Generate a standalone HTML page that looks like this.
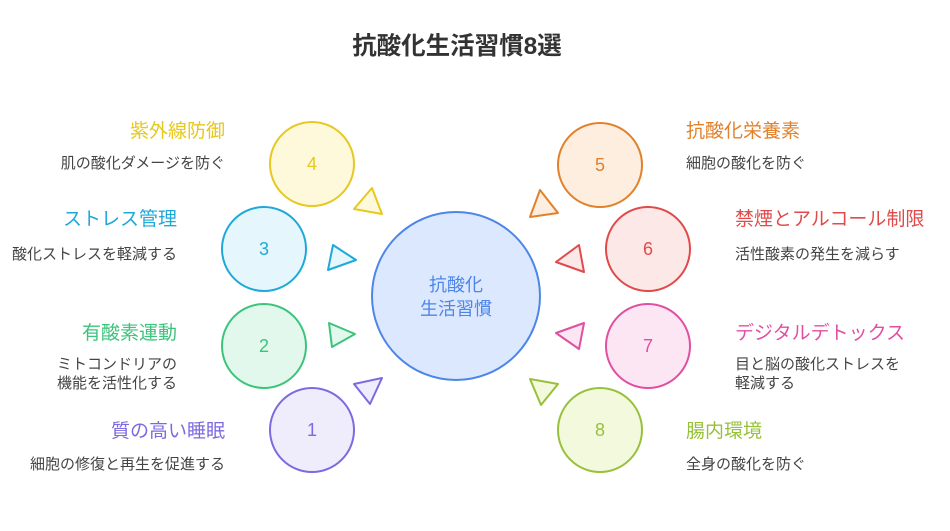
<!DOCTYPE html>
<html><head><meta charset="utf-8"><style>
body{margin:0;background:#fff;}
svg text{font-family:"Liberation Sans","Noto Sans CJK JP",sans-serif;}
</style></head><body>
<svg width="950" height="526" xmlns="http://www.w3.org/2000/svg">
<text x="457" y="54" font-size="24.5" font-weight="bold" fill="#333" text-anchor="middle">抗酸化生活習慣8選</text>
<g stroke-width="2" stroke-linejoin="round">
<circle cx="456" cy="296" r="84" fill="#dce8fd" stroke="#4d86e8"/>
<circle cx="312" cy="164" r="42" fill="#fef9db" stroke="#e6c81f"/>
<circle cx="264" cy="249" r="42" fill="#e6f6fd" stroke="#1ea9d8"/>
<circle cx="264" cy="346" r="42" fill="#e2f8ec" stroke="#3cc47c"/>
<circle cx="312" cy="430" r="42" fill="#efedfc" stroke="#7c6ae0"/>
<circle cx="600" cy="165" r="42" fill="#fdeedf" stroke="#e2812b"/>
<circle cx="648" cy="249" r="42" fill="#fde8e8" stroke="#e04a4a"/>
<circle cx="648" cy="346" r="42" fill="#fce6f3" stroke="#e04fa0"/>
<circle cx="600" cy="430" r="42" fill="#f2f9dd" stroke="#98c13a"/>
<polygon points="372,188 382,214 354,209" fill="#fef9db" stroke="#e6c81f"/>
<polygon points="333,245 356,260 328,270" fill="#e6f6fd" stroke="#1ea9d8"/>
<polygon points="329,323 355,334 332,347" fill="#e2f8ec" stroke="#3cc47c"/>
<polygon points="354,384 382,378 370,404" fill="#efedfc" stroke="#7c6ae0"/>
<polygon points="540,190 558,213 530,217" fill="#fdeedf" stroke="#e2812b"/>
<polygon points="556,262 579,245 584,272" fill="#fde8e8" stroke="#e04a4a"/>
<polygon points="556,333 584,323 579,349" fill="#fce6f3" stroke="#e04fa0"/>
<polygon points="530,379 558,384 541,405" fill="#f2f9dd" stroke="#98c13a"/>
</g>
<g font-size="18" text-anchor="middle">
<text x="456" y="291" fill="#4d86e8">抗酸化</text>
<text x="456" y="315" fill="#4d86e8">生活習慣</text>
<text x="312" y="170" fill="#e6c81f">4</text>
<text x="264" y="255" fill="#1ea9d8">3</text>
<text x="264" y="352" fill="#3cc47c">2</text>
<text x="312" y="436" fill="#7c6ae0">1</text>
<text x="600" y="171" fill="#e2812b">5</text>
<text x="648" y="255" fill="#e04a4a">6</text>
<text x="648" y="352" fill="#e04fa0">7</text>
<text x="600" y="436" fill="#98c13a">8</text>
</g>
<g font-size="19" text-anchor="end">
<text x="225" y="137" fill="#e6c81f">紫外線防御</text>
<text x="177" y="225" fill="#1ea9d8">ストレス管理</text>
<text x="177" y="339" fill="#3cc47c">有酸素運動</text>
<text x="225" y="437" fill="#7c6ae0">質の高い睡眠</text>
</g>
<g font-size="19">
<text x="686" y="137" fill="#e2812b">抗酸化栄養素</text>
<text x="735" y="225" fill="#e04a4a">禁煙とアルコール制限</text>
<text x="735" y="339" fill="#e04fa0">デジタルデトックス</text>
<text x="686" y="437" fill="#98c13a">腸内環境</text>
</g>
<g font-size="15" fill="#444" text-anchor="end">
<text x="225" y="168">肌の酸化ダメージを防ぐ</text>
<text x="177" y="259">酸化ストレスを軽減する</text>
<text x="177" y="369">ミトコンドリアの</text>
<text x="177" y="388">機能を活性化する</text>
<text x="225" y="469">細胞の修復と再生を促進する</text>
</g>
<g font-size="15" fill="#444">
<text x="686" y="168">細胞の酸化を防ぐ</text>
<text x="735" y="259">活性酸素の発生を減らす</text>
<text x="735" y="369">目と脳の酸化ストレスを</text>
<text x="735" y="388">軽減する</text>
<text x="686" y="469">全身の酸化を防ぐ</text>
</g>
</svg>
</body></html>
